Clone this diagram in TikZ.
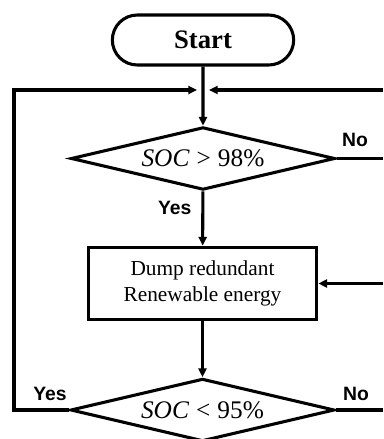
\documentclass[tikz,border=0pt]{standalone}
\usepackage{fontspec}
\setmainfont{Liberation Serif}
\newfontfamily\labelfont{Liberation Sans}
\usetikzlibrary{shapes.geometric,shapes.misc,arrows.meta}

\begin{document}
\begin{tikzpicture}[x=0.75pt, y=-0.75pt, line width=2.3pt,
    >={Triangle[length=6.5pt,width=6pt]},
    terminal/.style={rounded rectangle, draw, inner sep=0pt,
        minimum width=136pt, minimum height=37.5pt,
        font=\bfseries\fontsize{20}{24}\selectfont},
    decision/.style={diamond, draw, inner sep=0pt, aspect=4.2,
        minimum width=198pt, minimum height=47pt,
        font=\fontsize{19}{22}\selectfont},
    process/.style={rectangle, draw, inner sep=0pt, align=center,
        minimum width=171.5pt, minimum height=54.5pt,
        font=\fontsize{16}{19}\selectfont},
    answer/.style={font=\labelfont\bfseries\fontsize{14.5}{17}\selectfont}]

    \useasboundingbox (0,0) rectangle (383,439);

    % Blocks
    \node[terminal] (start) at (203,40) {Start};
    \node[decision] (full) at (203,158.5) {\textit{SOC}\;>\;98\%};
    \node[process] (dump) at (202.5,283.5) {Dump redundant\\Renewable energy};
    \node[decision] (low) at (202.5,410) {\textit{SOC}\;<\;95\%};

    % Free ends
    \coordinate (joinL) at (197,90);
    \coordinate (joinR) at (209,90);
    \coordinate (edgeA) at (383,90);
    \coordinate (edgeB) at (383,158.5);
    \coordinate (edgeC) at (383,283.5);
    \coordinate (edgeD) at (383,410);
    \coordinate (leftX) at (14,410);

    % Main flow
    \draw[->] (start) -- (full);
    \draw[->] (full) -- (dump) node[pos=0.3, left=4pt, answer] {Yes};
    \draw[->] (dump) -- (low);

    % Loops back
    \draw[->] (low.west) -- (leftX) |- (joinL);
    \draw[->] (edgeA) -- (joinR);
    \draw (full.east) -- (edgeB);
    \draw[->] (edgeC) -- (dump.east);
    \draw (low.east) -- (edgeD);

    % Answers
    \node[answer] (noA) at (355,140) {No};
    \node[answer] (yesB) at (50,394) {Yes};
    \node[answer] (noB) at (356,394) {No};

\end{tikzpicture}
\end{document}
